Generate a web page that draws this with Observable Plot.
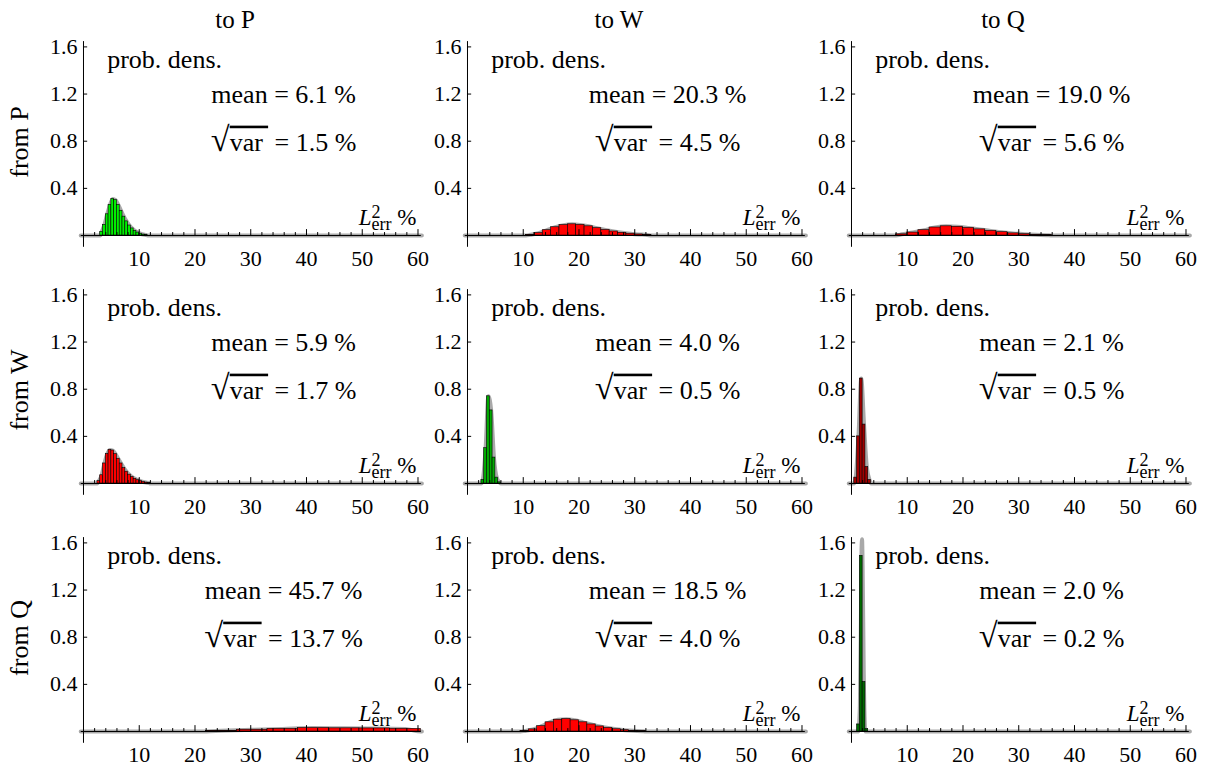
<!DOCTYPE html>
<html><head><meta charset="utf-8">
<script src="https://cdn.jsdelivr.net/npm/d3@7"></script>
<script src="https://cdn.jsdelivr.net/npm/@observablehq/plot@0.6"></script>
<style>
html,body{margin:0;padding:0;background:#fff;}
#chart{position:relative;width:1207px;height:766px;overflow:hidden;font-family:"Liberation Serif","Times New Roman",serif;color:#000;}
.panel{position:absolute;}
.panel svg{background:transparent !important;overflow:visible;display:block;max-width:none;}
.title{position:absolute;font-size:25px;line-height:1;white-space:nowrap;transform:translateX(-50%);}
.rowlab{position:absolute;font-size:26px;line-height:1;white-space:nowrap;transform:translate(-50%,-50%) rotate(-90deg);}
</style></head>
<body><div id="chart"></div>
<script>
// ---- labels ----
const fromLabels = ["from P", "from W", "from Q"];
const toLabels = ["to P", "to W", "to Q"];
const xTicks = [10, 20, 30, 40, 50, 60];
const xMinorTicks = [2,4,6,8,12,14,16,18,22,24,26,28,32,34,36,38,42,44,46,48,52,54,56,58];
const yTicks = [0.4, 0.8, 1.2, 1.6];
const densLabel = "prob. dens.";
const axisLabel = "L2err %";

// ---- statistics shown in each panel (rows: from, cols: to) ----
const means = [[6.1, 20.3, 19.0], [5.9, 4.0, 2.1], [45.7, 18.5, 2.0]];
const sds = [[1.5, 4.5, 5.6], [1.7, 0.5, 0.5], [13.7, 4.0, 0.2]];
const colors = [["#00f000", "#ff0000", "#ff0000"], ["#ff0000", "#00aa00", "#a00000"], ["#ff0000", "#ff0000", "#006a00"]];

// ---- histogram bins: first edge, bin width, densities ----
const binStart = [[3.0, 10.5, 8], [2.5, 2.5, 0.5], [22, 9.5, 1.0]];
const binWidth = [[0.5, 1.5, 2], [0.5, 0.5, 0.5], [5.5, 1.5, 0.5]];
const densPP = [0.03,0.09,0.18,0.26,0.31,0.30,0.26,0.21,0.16,0.12,0.085,0.06,0.04,0.025,0.015,0.008,0.004];
const densPW = [0.006,0.02,0.045,0.07,0.088,0.095,0.09,0.078,0.062,0.047,0.034,0.023,0.015,0.009,0.005];
const densPQ = [0.01,0.025,0.045,0.068,0.078,0.074,0.064,0.052,0.039,0.028,0.018,0.011,0.006,0.003];
const densWP = [0.02,0.07,0.17,0.25,0.285,0.28,0.25,0.21,0.17,0.13,0.1,0.075,0.055,0.04,0.028,0.02,0.013,0.008,0.005];
const densWW = [0.03,0.3,0.74,0.62,0.22,0.05,0.01];
const densWQ = [0.05,0.4,0.89,0.5,0.14,0.03];
const densQP = [0.006,0.015,0.022,0.029,0.027,0.026,0.022];
const densQW = [0.005,0.018,0.045,0.078,0.1,0.105,0.095,0.078,0.06,0.043,0.03,0.019,0.011,0.006,0.003];
const densQQ = [0.06,1.49,0.42,0.02];
const densities = [[densPP, densPW, densPQ], [densWP, densWW, densWQ], [densQP, densQW, densQQ]];

// fitted density (grey) for the narrow Q->Q peak
const grayQQx = [1.2, 1.5, 1.7, 1.8, 1.9, 2.0, 2.2, 2.5];
const grayQQy = [0, 0.2, 1.0, 1.55, 1.63, 1.4, 0.5, 0];

const xDomain = [-0.5, 60.7];
const yDomain = [-0.1, 1.645];
const FAM = "Liberation Serif";

const NS = "http://www.w3.org/2000/svg";
function ts(parent, txt, attrs) {
  const e = document.createElementNS(NS, "tspan");
  for (const k in attrs) e.setAttribute(k, attrs[k]);
  e.textContent = txt;
  parent.appendChild(e);
  return e;
}
function richText(svg) {
  svg.querySelectorAll("g").forEach(g => { if (g.hasAttribute("font-family")) g.setAttribute("font-family", FAM); });
  svg.querySelectorAll("text").forEach(t => {
    t.setAttribute("font-family", FAM);
    t.style.setProperty("font-family", FAM, "important");
    const s = t.textContent;
    if (s.startsWith("√var")) {
      const rest = s.slice(4);
      t.textContent = "";
      ts(t, "√", {"font-size": "1.32em"});
      ts(t, "var\u2009", {"text-decoration": "overline"});
      ts(t, rest, {});
    } else if (s === axisLabel) {
      t.textContent = "";
      ts(t, "L", {"font-style": "italic"});
      ts(t, "2", {"font-size": "18px", dy: "-7"});
      ts(t, "err", {"font-size": "18px", dx: "-9", dy: "12"});
      ts(t, " %", {dy: "-5"});
    }
  });
}

const chart = document.getElementById("chart");

for (let r = 0; r < 3; r++) {
  for (let c = 0; c < 3; c++) {
    const vals = densities[r][c];
    const s0 = binStart[r][c], w = binWidth[r][c];
    const bins = vals.map((v, i) => ({x1: s0 + i * w, x2: s0 + (i + 1) * w, y: v}));
    let curvePts;
    if (r === 2 && c === 2) {
      curvePts = [{x: xDomain[0], y: 0}, ...grayQQx.map((x, i) => ({x, y: grayQQy[i]})), {x: xDomain[1], y: 0}];
    } else {
      curvePts = [{x: xDomain[0], y: 0}, {x: bins[0].x1, y: 0},
        ...bins.map(b => ({x: (b.x1 + b.x2) / 2, y: b.y})),
        {x: bins[bins.length - 1].x2, y: 0}, {x: xDomain[1], y: 0}];
      curvePts = curvePts.filter(p => p.x <= xDomain[1]);
    }
    const svg = Plot.plot({
      width: 410, height: 270,
      marginLeft: 60.2, marginRight: 8.6, marginTop: 41.1, marginBottom: 23.2,
      x: {domain: xDomain, axis: null},
      y: {domain: yDomain, axis: null},
      style: "background: transparent; overflow: visible; font-family: 'Liberation Serif', serif; color: #000;",
      marks: [
        Plot.line(curvePts, {x: "x", y: "y", stroke: "#a9a9a9", strokeWidth: 4, curve: "monotone-x"}),
        Plot.rect(bins, {x1: "x1", x2: "x2", y1: 0, y2: "y", fill: colors[r][c], stroke: "#000", strokeWidth: 0.6}),
        Plot.ruleY([0], {x1: -0.4, x2: 60.6, stroke: "#000", strokeWidth: 1}),
        Plot.ruleX([0], {y1: yDomain[0], y2: yDomain[1], stroke: "#000", strokeWidth: 1}),
        Plot.ruleX(xTicks, {x: d => d, y1: 0, y2: 0.05, stroke: "#000", strokeWidth: 1}),
        Plot.ruleX(xMinorTicks, {x: d => d, y1: 0, y2: 0.025, stroke: "#000", strokeWidth: 1}),
        Plot.ruleY(yTicks, {y: d => d, x1: 0, x2: 0.75, stroke: "#000", strokeWidth: 1}),
        Plot.text(xTicks, {x: d => d, y: 0, dy: 23, text: d => String(d), fontSize: 22, lineAnchor: "middle", fill: "#000"}),
        Plot.text(yTicks, {x: 0, y: d => d, dx: -6, text: d => d.toFixed(1), textAnchor: "end", fontSize: 22, lineAnchor: "middle", fill: "#000"}),
        Plot.text([densLabel], {x: 4.25, y: 1.42, text: d => d, textAnchor: "start", lineAnchor: "bottom", fontSize: 26, fill: "#000"}),
        Plot.text([`mean = ${means[r][c].toFixed(1)} %`], {x: 35.9, y: 1.128, text: d => d, textAnchor: "middle", lineAnchor: "bottom", fontSize: 26, fill: "#000"}),
        Plot.text([`√var = ${sds[r][c].toFixed(1)} %`], {x: 35.9, y: 0.72, text: d => d, textAnchor: "middle", lineAnchor: "bottom", fontSize: 26, fill: "#000"}),
        Plot.text([axisLabel], {x: 59.73, y: 0.085, text: d => d, textAnchor: "end", lineAnchor: "bottom", fontSize: 23, fill: "#000"})
      ]
    });
    richText(svg);
    const div = document.createElement("div");
    div.className = "panel";
    div.style.left = (20 + 384 * c) + "px";
    div.style.top = (248 * r) + "px";
    div.appendChild(svg);
    chart.appendChild(div);
  }
}

toLabels.forEach((t, c) => {
  const d = document.createElement("div");
  d.className = "title";
  d.textContent = t;
  d.style.left = (235 + 384 * c) + "px";
  d.style.top = "7px";
  chart.appendChild(d);
});
fromLabels.forEach((t, r) => {
  const d = document.createElement("div");
  d.className = "rowlab";
  d.textContent = t;
  d.style.left = "20px";
  d.style.top = (142 + 248 * r) + "px";
  chart.appendChild(d);
});
</script></body></html>
